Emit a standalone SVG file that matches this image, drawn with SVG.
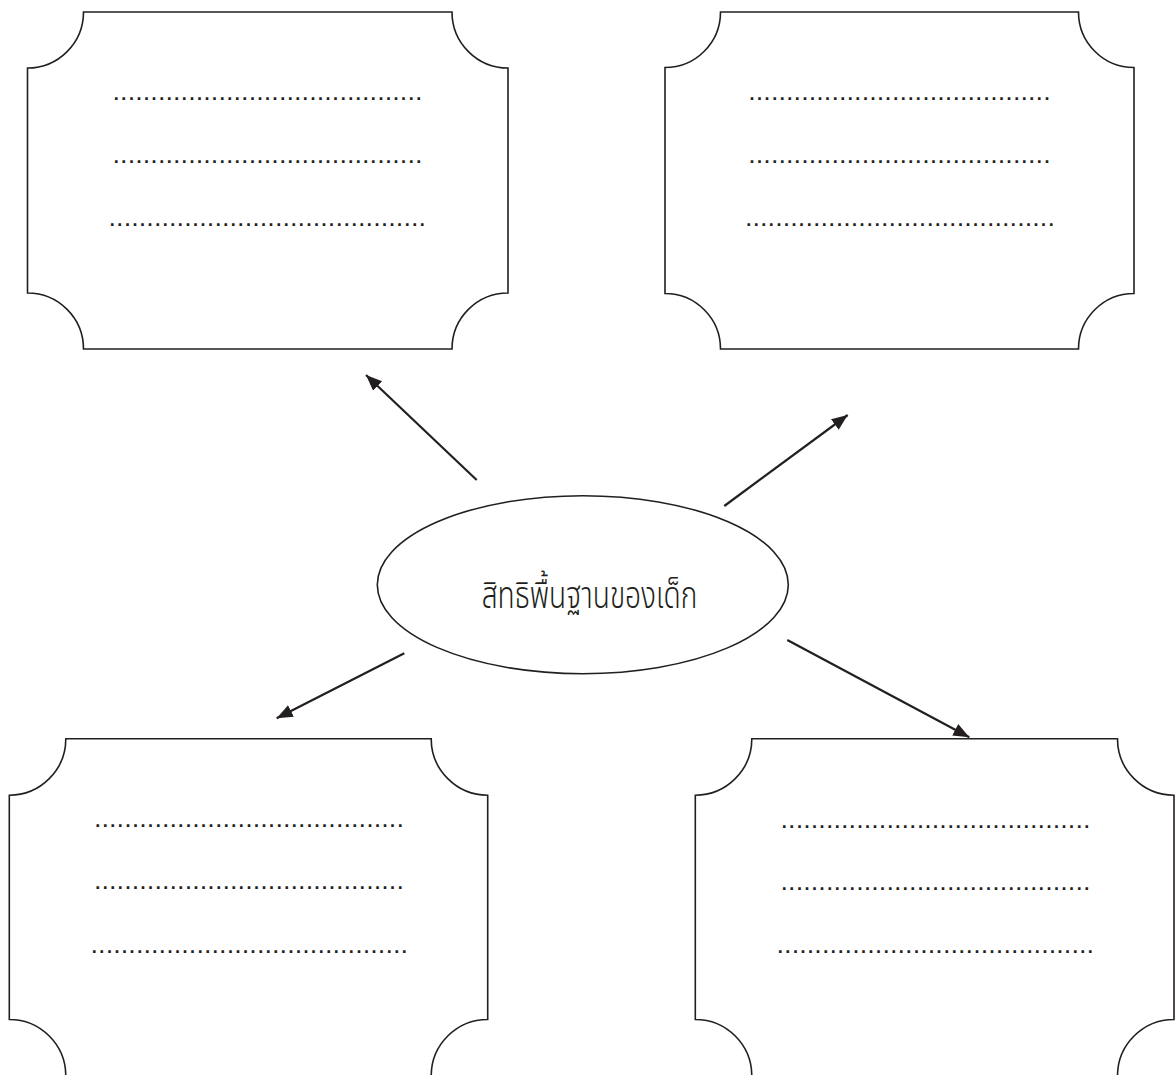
<svg xmlns="http://www.w3.org/2000/svg" width="1175" height="1075" viewBox="0 0 1175 1075">
  <style>
    .box { fill: #ffffff; stroke: #231f20; stroke-width: 1.6; }
    .dots { font-family: "Liberation Sans", Arial, sans-serif; font-size: 18px; font-weight: bold; fill: #231f20; letter-spacing: 2.56px; }
    .conn { stroke: #231f20; stroke-width: 2.2; fill: none; marker-end: url(#arrow); }
    .title { font-family: "Noto Sans Thai", "Noto Sans", "DejaVu Sans", sans-serif; font-size: 38px; font-weight: 300; fill: #231f20; }
  </style>
  <defs>
    <marker id="arrow" markerUnits="userSpaceOnUse" markerWidth="18" markerHeight="14" refX="16" refY="6.5" orient="auto">
      <path d="M0,0 L16,6.5 L0,13 Z" fill="#231f20"/>
    </marker>
  </defs>
  <rect width="1175" height="1075" fill="#ffffff"/>

  <g id="connectors">
    <line class="conn" x1="476.7" y1="480" x2="366" y2="375"/>
    <line class="conn" x1="724.3" y1="506" x2="847.7" y2="415"/>
    <line class="conn" x1="404.3" y1="653.3" x2="276.7" y2="718.3"/>
    <line class="conn" x1="787.3" y1="640" x2="969.3" y2="737.3"/>
  </g>

  <g id="box-top-left">
    <path class="box" d="M83.5,12 H452 A56,56 0 0 0 508,68 V293 A56,56 0 0 0 452,349 H83.5 A56,56 0 0 0 27.5,293 V68 A56,56 0 0 0 83.5,12 Z"/>
    <text class="dots" x="113.8" y="100">.........................................</text>
    <text class="dots" x="113.8" y="163">.........................................</text>
    <text class="dots" x="109.8" y="226">..........................................</text>
  </g>

  <g id="box-top-right">
    <path class="box" d="M720.5,12 H1078.5 A55.5,55.5 0 0 0 1134,67.5 V293.5 A55.5,55.5 0 0 0 1078.5,349 H720.5 A55.5,55.5 0 0 0 665,293.5 V67.5 A55.5,55.5 0 0 0 720.5,12 Z"/>
    <text class="dots" x="749.5" y="100">........................................</text>
    <text class="dots" x="749.5" y="163">........................................</text>
    <text class="dots" x="746.2" y="226">.........................................</text>
  </g>

  <g id="box-bottom-left">
    <path class="box" d="M65.8,738.7 H431.2 A56.5,56.5 0 0 0 487.7,795.2 V1019.5 A56.5,56.5 0 0 0 431.2,1076 H65.8 A56.5,56.5 0 0 0 9.3,1019.5 V795.2 A56.5,56.5 0 0 0 65.8,738.7 Z"/>
    <text class="dots" x="95.2" y="826.7">.........................................</text>
    <text class="dots" x="95.2" y="889.3">.........................................</text>
    <text class="dots" x="91.8" y="953.3">..........................................</text>
  </g>

  <g id="box-bottom-right">
    <path class="box" d="M751.8,738.7 H1117.5 A56.5,56.5 0 0 0 1174,795.2 V1019.5 A56.5,56.5 0 0 0 1117.5,1076 H751.8 A56.5,56.5 0 0 0 695.3,1019.5 V795.2 A56.5,56.5 0 0 0 751.8,738.7 Z"/>
    <text class="dots" x="781.8" y="827.7">.........................................</text>
    <text class="dots" x="781.8" y="890.3">.........................................</text>
    <text class="dots" x="777.8" y="953.3">..........................................</text>
  </g>

  <g id="center-node">
    <ellipse class="box" cx="582.8" cy="584.7" rx="205.5" ry="89"/>
    <text class="title" x="481.7" y="608" textLength="215.6" lengthAdjust="spacingAndGlyphs">สิทธิพื้นฐานของเด็ก</text>
  </g>
</svg>
